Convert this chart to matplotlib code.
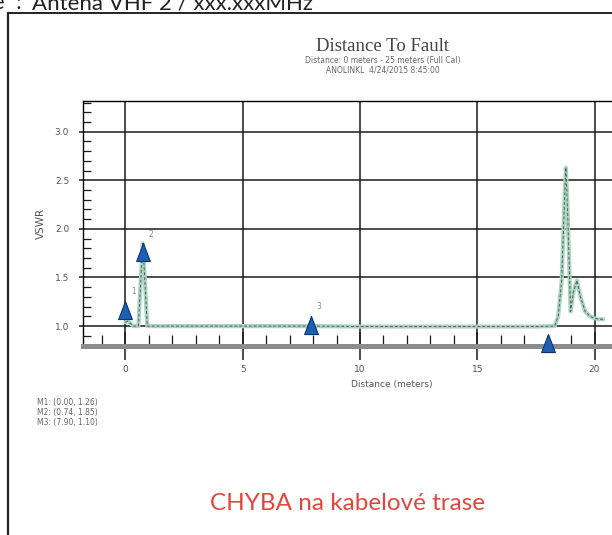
import matplotlib
matplotlib.use('Agg')
import matplotlib.pyplot as plt
from matplotlib.lines import Line2D
from matplotlib.ticker import MultipleLocator

# data
dist = [0.0, 0.1, 0.35, 0.55, 0.66, 0.74, 0.82, 0.93, 1.05, 2.0, 4.0, 6.0, 7.9,
        10.0, 12.0, 14.0, 16.0, 17.5, 18.3, 18.45, 18.6, 18.72, 18.78, 18.85,
        18.98, 19.1, 19.25, 19.4, 19.6, 19.81, 20.0, 20.2, 20.37]
vswr = [1.04, 1.05, 1.0, 1.0, 1.5, 1.85, 1.5, 1.0, 1.0, 1.0, 1.0, 1.0, 1.0,
        0.995, 0.995, 0.995, 0.995, 0.995, 1.0, 1.1, 1.47, 2.3, 2.63, 2.2,
        1.15, 1.35, 1.47, 1.3, 1.15, 1.10, 1.08, 1.07, 1.07]

# markery
mk_x = [0.00, 0.74, 7.90, 18.0]
mk_y = [1.26, 1.85, 1.10, 0.92]
mk_lbl = ['1', '2', '3', '']

x_ticks = [0, 5, 10, 15, 20]
y_ticks = [1.0, 1.5, 2.0, 2.5, 3.0]

W, H = 612, 535
fig = plt.figure(figsize=(W / 100, H / 100), dpi=100)
fig.patch.set_facecolor('white')

# osa - presahuje pravy okraj (orezany sken)
ax = fig.add_axes([83 / W, 1 - 345.5 / H, (701 - 83) / W, (345.5 - 101) / H])
ax.set_xlim(-1.81, 24.54)
ax.set_ylim(0.80, 3.316)

ax.plot(dist, vswr, color='#a9d6c0', lw=3.0, solid_capstyle='round', zorder=3)
ax.plot(dist, vswr, color='#5a5a5a', lw=0.7, ls=(0, (3, 2)), zorder=4)

# trojuhelnikove markery se spickou v bode
tri = [(0, 0), (-0.38, -1), (0.38, -1), (0, 0)]
for mx, my, ml in zip(mk_x, mk_y, mk_lbl):
    ax.plot(mx, my, marker=tri, markersize=26, color='#1c5fb3',
            markeredgecolor='#0b3470', markeredgewidth=0.8, zorder=5, clip_on=False)
    if ml:
        ax.annotate(ml, (mx, my), xytext=(4, 5), textcoords='offset points',
                    fontsize=5.5, color='#888888', zorder=6)

ax.set_xticks(x_ticks)
ax.set_yticks(y_ticks)
ax.xaxis.set_minor_locator(MultipleLocator(1))
ax.yaxis.set_minor_locator(MultipleLocator(0.1))
ax.grid(True, which='major', color='#1a1a1a', lw=1.1)
ax.set_axisbelow(True)

ax.tick_params(axis='x', which='major', direction='inout', length=20, width=1.1,
               color='#1a1a1a', pad=4, labelsize=6.5, labelcolor='#555555')
ax.tick_params(axis='x', which='minor', direction='in', length=8, width=0.9,
               color='#1a1a1a')
ax.tick_params(axis='y', which='major', direction='out', length=3, width=1.1,
               color='#1a1a1a', pad=7, labelsize=6.5, labelcolor='#555555')
ax.tick_params(axis='y', which='minor', direction='in', length=6, width=0.9,
               color='#1a1a1a')
ax.set_xticklabels([str(t) for t in x_ticks])
ax.set_yticklabels([f'{t:.1f}' for t in y_ticks])

ax.spines['bottom'].set_linewidth(3.6)
ax.spines['bottom'].set_color('#8c8c8c')
ax.spines['left'].set_linewidth(1.0)
ax.spines['top'].set_linewidth(1.0)
ax.spines['right'].set_visible(False)

ax.set_xlabel('Distance (meters)', fontsize=6.5, color='#555555', labelpad=4)
ax.set_ylabel('VSWR', fontsize=7.5, color='#555555', labelpad=6)

# nadpisy grafu
fig.text(383 / W, 1 - 47 / H, 'Distance To Fault', ha='center', va='center',
         family='Liberation Serif', fontsize=13.5, color='#444444')
fig.text(383 / W, 1 - 60 / H, 'Distance: 0 meters - 25 meters (Full Cal)',
         ha='center', va='center', fontsize=5.5, color='#666666')
fig.text(383 / W, 1 - 70 / H, 'ANOLINKL  4/24/2015 8:45:00',
         ha='center', va='center', fontsize=5.5, color='#666666')

# hodnoty markeru
for i, (mx, my) in enumerate(zip(mk_x[:3], mk_y[:3])):
    fig.text(37 / W, 1 - (403 + 10 * i) / H, f'M{i + 1}: ({mx:.2f}, {my:.2f})',
             ha='left', va='center', fontsize=5.5, color='#666666')

# hlavicka dokumentu a ramecek (v originale orezana hornim okrajem)
fig.text(22 / W, 1 - 9 / H, 'Typ antene  :', ha='right', va='baseline',
         family='Lato', fontsize=16, color='#222222')
fig.text(32 / W, 1 - 9 / H, 'Antena VHF 2 / xxx.xxxMHz', ha='left', va='baseline',
         family='Lato', fontsize=16, color='#222222')
fig.add_artist(Line2D([8 / W, 1], [1 - 13 / H, 1 - 13 / H], color='#222222', lw=1.4))
fig.add_artist(Line2D([8 / W, 8 / W], [1 - 13 / H, 0], color='#222222', lw=1.6))

fig.text(347 / W, 1 - 503 / H, 'CHYBA na kabelové trase', ha='center', va='center',
         family='Lato', fontsize=17.5, color='#e0483e')

fig.savefig('out.png', dpi=100)
